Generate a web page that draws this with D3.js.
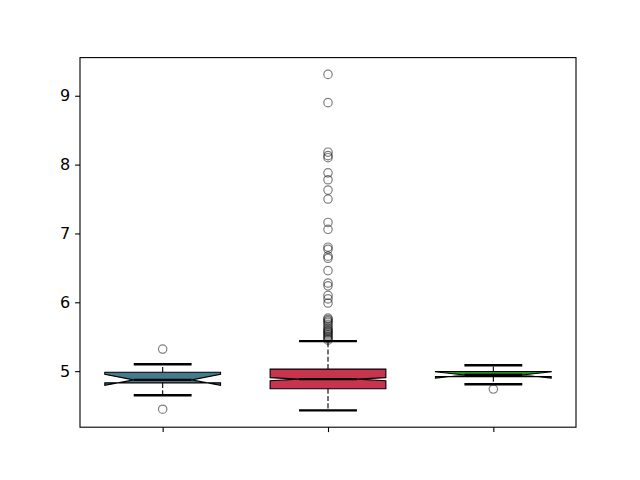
<!DOCTYPE html>
<html>
<head>
<meta charset="utf-8">
<script src="https://cdn.jsdelivr.net/npm/d3@7"></script>
<style>
  html, body { margin: 0; padding: 0; background: #fff; }
  svg { display: block; }
  text { font-family: "DejaVu Sans", sans-serif; }
</style>
</head>
<body>
<svg id="chart" width="640" height="480"></svg>
<script>
// ---- data ----
const positions = [1, 2, 3];
const tickLabels = ["", "", ""];
const whiskerLow = [4.65, 4.43, 4.81];
const q1 = [4.830, 4.745, 4.92];
const median = [4.873, 4.884, 4.945];
const q3 = [4.985, 5.03, 4.995];
const whiskerHigh = [5.10, 5.436, 5.085];
const notchLow = [4.793, 4.862, 4.898];
const notchHigh = [4.953, 4.906, 4.992];
const outliers1 = [5.32, 4.447];
const outliers2 = [9.31, 8.90, 8.18, 8.13, 8.10, 7.88, 7.78, 7.63, 7.50, 7.16, 7.06,
  6.80, 6.77, 6.67, 6.64, 6.46, 6.28, 6.24, 6.10, 6.05, 5.99,
  5.77, 5.75, 5.73, 5.71, 5.68, 5.65, 5.62, 5.60, 5.58, 5.57, 5.55, 5.53, 5.51, 5.49, 5.47, 5.45];
const outliers3 = [4.74];
const outliers = [outliers1, outliers2, outliers3];
const yTicks = [5, 6, 7, 8, 9];

// ---- styles ----
const boxColors = ["#437a8d", "#c8344d", "#228b22"];
const boxWidth = 0.7;
const fontPx = 16;

const mLeft = 80, mRight = 576, mTop = 57.6, mBottom = 427.2;

const svg = d3.select("#chart");

const allVals = [].concat(whiskerLow, whiskerHigh, ...outliers);
const lo = d3.min(allVals), hi = d3.max(allVals);
const pad = (hi - lo) * 0.05;

const x = d3.scaleLinear().domain([0.5, 3.5]).range([mLeft, mRight]);
const y = d3.scaleLinear().domain([lo - pad, hi + pad]).range([mBottom, mTop]);

const g = svg.append("g");

positions.forEach((p, i) => {
  const bl = x(p - boxWidth / 2), br = x(p + boxWidth / 2);
  const cl = x(p - boxWidth / 4), cr = x(p + boxWidth / 4);
  const cx = x(p);

  // whiskers (dashed)
  g.append("line").attr("x1", cx).attr("x2", cx)
    .attr("y1", y(q3[i])).attr("y2", y(whiskerHigh[i]))
    .attr("stroke", "#000").attr("stroke-width", 1.1).attr("stroke-dasharray", "5.1,2.2");
  g.append("line").attr("x1", cx).attr("x2", cx)
    .attr("y1", y(q1[i])).attr("y2", y(whiskerLow[i]))
    .attr("stroke", "#000").attr("stroke-width", 1.1).attr("stroke-dasharray", "5.1,2.2");

  // notched box path (matplotlib order)
  const pts = [
    [bl, y(q1[i])], [br, y(q1[i])], [br, y(notchLow[i])], [cr, y(median[i])],
    [br, y(notchHigh[i])], [br, y(q3[i])], [bl, y(q3[i])], [bl, y(notchHigh[i])],
    [cl, y(median[i])], [bl, y(notchLow[i])]
  ];
  g.append("path")
    .attr("d", d3.line()(pts) + "Z")
    .attr("fill", boxColors[i])
    .attr("stroke", "#000").attr("stroke-width", 1.1)
    .attr("stroke-linejoin", "miter");

  // caps
  [whiskerLow[i], whiskerHigh[i]].forEach(v => {
    g.append("line").attr("x1", cl).attr("x2", cr)
      .attr("y1", y(v)).attr("y2", y(v))
      .attr("stroke", "#000").attr("stroke-width", 2.4);
  });

  // median
  g.append("line").attr("x1", cl).attr("x2", cr)
    .attr("y1", y(median[i])).attr("y2", y(median[i]))
    .attr("stroke", "#000").attr("stroke-width", 2.4);

  // outliers
  g.selectAll(null).data(outliers[i]).enter().append("circle")
    .attr("cx", cx).attr("cy", d => y(d)).attr("r", 4.2)
    .attr("fill", "none").attr("stroke", "#000").attr("stroke-opacity", 0.5)
    .attr("stroke-width", 1.2);
});

// axes
const yAxis = d3.axisLeft(y).tickValues(yTicks).tickSize(4.9).tickPadding(4.9)
  .tickFormat(d3.format("d"));
const ya = svg.append("g").attr("transform", `translate(${mLeft},0)`).call(yAxis)
  .attr("font-size", fontPx).attr("font-family", "'DejaVu Sans', sans-serif");
ya.select(".domain").remove();
ya.selectAll(".tick line").attr("stroke", "#000").attr("stroke-width", 1.1);
ya.selectAll(".tick text").attr("fill", "#000").attr("font-size", fontPx)
  .style("font-size", fontPx + "px");

const xAxis = d3.axisBottom(x).tickValues(positions).tickSize(4.9).tickPadding(4.9)
  .tickFormat((d, i) => tickLabels[i]);
const xa = svg.append("g").attr("transform", `translate(0,${mBottom})`).call(xAxis)
  .attr("font-size", fontPx);
xa.select(".domain").remove();
xa.selectAll(".tick line").attr("stroke", "#000").attr("stroke-width", 1.1);

// frame
svg.append("rect").attr("x", mLeft).attr("y", mTop)
  .attr("width", mRight - mLeft).attr("height", mBottom - mTop)
  .attr("fill", "none").attr("stroke", "#000").attr("stroke-width", 1.1);
</script>
</body>
</html>
